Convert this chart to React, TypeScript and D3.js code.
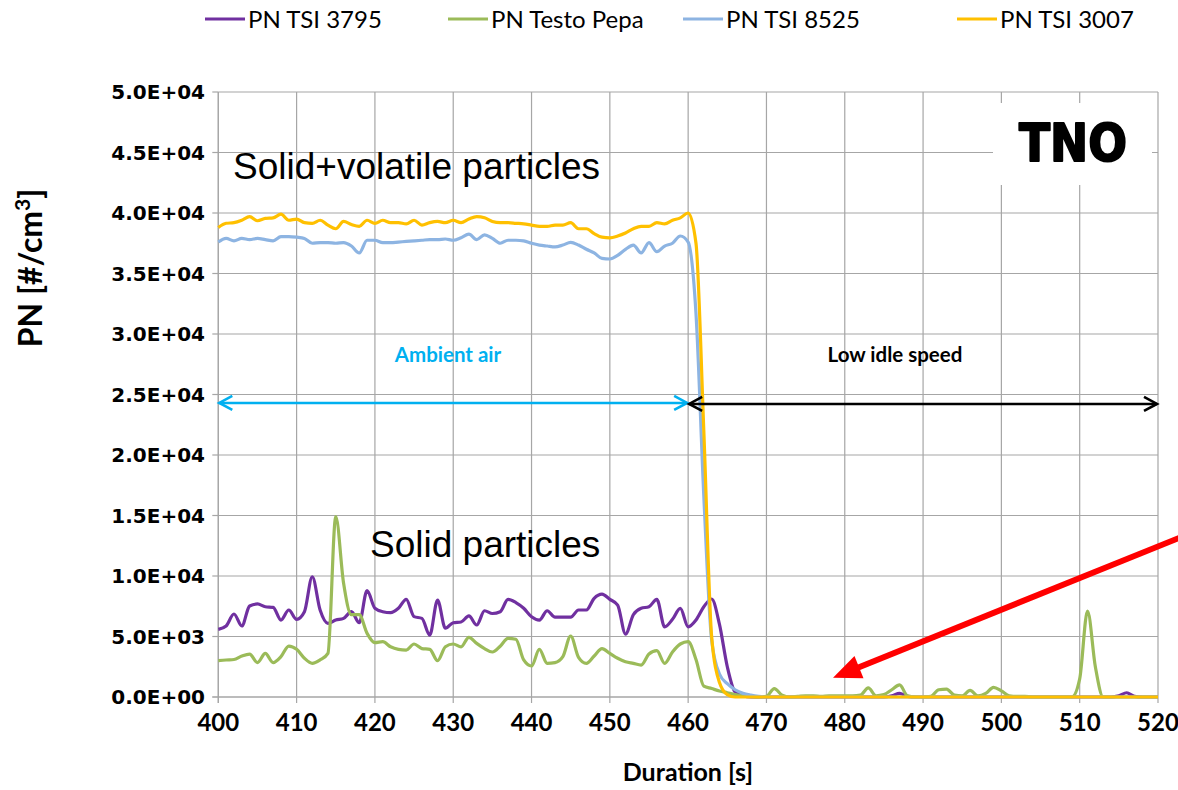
// App.tsx > PN time trace (TSI / Testo counters)

import React from 'react';
import * as d3 from 'd3';

// data
const seconds = d3.range(400, 521);
const seriesNames = ['PN TSI 3795', 'PN Testo Pepa', 'PN TSI 8525', 'PN TSI 3007'];
const seriesColors = ['#7030a0', '#9bbb59', '#8db4e2', '#ffc000'];

const pnTsi3795 = [
    5590, 5870, 6860, 5870, 7520, 7690, 7460, 7410, 6360, 7190,
    6420, 7050, 9940, 7190, 6090, 6360, 6500, 7050, 6140, 8790,
    7330, 7050, 6970, 7330, 8070, 6640, 6500, 5120, 8000, 5680,
    6140, 6200, 6700, 5950, 7130, 6900, 7050, 8070, 7800, 7330,
    6640, 6360, 7130, 6600, 6600, 6600, 7190, 7190, 8160, 8500,
    8070, 7600, 5200, 6800, 7330, 7460, 8070, 5800, 6420, 7330,
    5800, 6360, 7460, 8100, 6000, 2500, 400, 100, 0, 0,
    0, 0, 0, 0, 0, 0, 0, 0, 0, 0,
    0, 0, 0, 0, 0, 0, 100, 300, 50, 0,
    0, 0, 0, 0, 0, 0, 0, 0, 0, 0,
    0, 0, 0, 0, 0, 0, 0, 0, 0, 0,
    0, 0, 0, 0, 0, 100, 350, 50, 0, 0,
    0,
];
const pnTestoPepa = [
    3000, 3060, 3100, 3390, 3550, 2840, 3600, 2840, 3330, 4210,
    3940, 3200, 2780, 3060, 3600, 14900, 9400, 6800, 6800, 5260,
    4490, 4570, 4150, 3940, 3880, 4380, 4000, 3940, 3000, 4150,
    4380, 4150, 4930, 4430, 4000, 3720, 4200, 4850, 4770, 3060,
    2560, 3940, 2780, 2840, 3330, 5040, 3280, 2780, 3390, 4000,
    3600, 3200, 2920, 2780, 2640, 3550, 3830, 2780, 3720, 4380,
    4570, 3100, 900, 700, 500, 350, 200, 100, 50, 0,
    50, 700, 150, 0, 50, 100, 100, 50, 100, 100,
    100, 100, 150, 750, 100, 200, 600, 1000, 100, 0,
    0, 50, 600, 650, 150, 100, 550, 100, 300, 800,
    500, 100, 50, 50, 0, 0, 0, 0, 0, 0,
    1500, 7100, 2500, 0, 0, 0, 0, 0, 0, 0,
    0,
];
const pnTsi8525 = [
    37600, 37900, 37700, 37900, 37800, 37900, 37800, 37700, 38050, 38050,
    38000, 37900, 37500, 37550, 37550, 37500, 37550, 37270, 36700, 37750,
    37750, 37550, 37550, 37600, 37650, 37700, 37750, 37800, 37800, 37850,
    37750, 37950, 38250, 37800, 38200, 37900, 37500, 37750, 37750, 37700,
    37500, 37350, 37270, 37200, 37350, 37570, 37350, 37000, 36700, 36250,
    36200, 36500, 37000, 37350, 36700, 37550, 36800, 37270, 37500, 38100,
    37600, 31700, 16600, 4700, 1900, 1100, 600, 300, 150, 50,
    0, 0, 0, 0, 0, 0, 0, 0, 0, 0,
    0, 0, 0, 0, 0, 0, 0, 0, 0, 0,
    0, 0, 0, 0, 0, 0, 0, 0, 0, 0,
    0, 0, 0, 0, 0, 0, 0, 0, 0, 0,
    0, 0, 0, 0, 0, 0, 0, 0, 0, 0,
    0,
];
const pnTsi3007 = [
    38800, 39150, 39200, 39400, 39700, 39360, 39550, 39600, 39900, 39400,
    39500, 39200, 39150, 39400, 39000, 38700, 39300, 39050, 38900, 39400,
    39150, 39400, 39200, 39200, 39100, 39400, 39000, 39200, 39300, 39200,
    39400, 39200, 39500, 39700, 39600, 39300, 39200, 39200, 39150, 39100,
    39000, 38900, 38900, 39000, 39000, 39200, 38700, 38700, 38300, 38000,
    37950, 38100, 38350, 38700, 38900, 38900, 39200, 39100, 39400, 39600,
    40000, 37500, 22000, 5000, 1200, 200, 0, 0, 0, 0,
    0, 0, 0, 0, 0, 0, 0, 0, 0, 0,
    0, 0, 0, 0, 0, 0, 0, 0, 0, 0,
    0, 0, 0, 0, 0, 0, 0, 0, 0, 0,
    0, 0, 0, 0, 0, 0, 0, 0, 0, 0,
    0, 0, 0, 0, 0, 0, 0, 0, 0, 0,
    0,
];
const seriesValues = [pnTsi3795, pnTestoPepa, pnTsi8525, pnTsi3007];

const xTicks = d3.range(400, 521, 10);
const yTicks = d3.range(0, 50001, 5000);

// annotations (data coords)
const phaseArrowY = 24300;
const ambientSpan = [400, 460];
const idleSpan = [460, 520];
const redArrowFrom = [522.9, 13200];
const redArrowTo = [478.5, 1600];

// layout
const W = 1178, H = 790;
const plot = {left: 218.3, right: 1158, top: 92, bottom: 697};

const fmtExp = (v: number) => {
    const [m, e] = v.toExponential(1).split('e');
    const sign = e[0] === '-' ? '-' : '+';
    const digits = e.replace(/[+-]/, '').padStart(2, '0');
    return `${m}E${sign}${digits}`;
};

export default function App() {
    const xScale = d3.scaleLinear().domain([400, 520]).range([plot.left, plot.right]);
    const yScale = d3.scaleLinear().domain([0, 50000]).range([plot.bottom, plot.top]);

    const lineGen = d3.line<number>()
        .x((_, i) => xScale(seconds[i]))
        .y((d) => yScale(d))
        .curve(d3.curveMonotoneX);

    // red arrow geometry
    const rx0 = xScale(redArrowFrom[0]), ry0 = yScale(redArrowFrom[1]);
    const rx1 = xScale(redArrowTo[0]), ry1 = yScale(redArrowTo[1]);
    const len = Math.hypot(rx1 - rx0, ry1 - ry0);
    const ux = (rx1 - rx0) / len, uy = (ry1 - ry0) / len;
    const headLen = 28, headHalf = 12;
    const bx = rx1 - ux * headLen, by = ry1 - uy * headLen;
    const head = `M${rx1},${ry1} L${bx - uy * headHalf},${by + ux * headHalf} L${bx + uy * headHalf},${by - ux * headHalf} Z`;

    const legendX = [205, 448, 683, 957];
    const gridColor = '#a6a6a6';
    const calibri = 'Lato, "Open Sans", sans-serif';

    const chevron = (x: number, y: number, dir: number) =>
        `M${x - dir * 13},${y - 7} L${x},${y} L${x - dir * 13},${y + 7}`;

    const ay = yScale(phaseArrowY);

    return (
        <div style={{position: 'absolute', left: 0, top: 0}}>
            <svg width={W} height={H} style={{display: 'block', background: '#fff'}}>
                {/* grid */}
                <g>
                    {yTicks.map((t) => (
                        <line key={'gy' + t} x1={plot.left} x2={plot.right} y1={yScale(t)} y2={yScale(t)}
                              stroke={gridColor} strokeWidth={1.2} />
                    ))}
                    {xTicks.map((t) => (
                        <line key={'gx' + t} x1={xScale(t)} x2={xScale(t)} y1={plot.top} y2={plot.bottom}
                              stroke={gridColor} strokeWidth={1.2} />
                    ))}
                </g>

                {/* TNO logo box */}
                <rect x={993} y={103} width={159} height={82} fill="#fff" />
                <text x={1073} y={161} textAnchor="middle" fontFamily='"DejaVu Sans", sans-serif'
                      fontWeight={900} fontSize={52} textLength={108} lengthAdjust="spacingAndGlyphs"
                      stroke="#000" strokeWidth={2} strokeLinejoin="round">TNO</text>

                {/* axes */}
                <line x1={plot.left} x2={plot.left} y1={plot.top} y2={plot.bottom + 6} stroke={gridColor} strokeWidth={1.2} />
                <line x1={plot.left - 6} x2={plot.right} y1={plot.bottom} y2={plot.bottom} stroke={gridColor} strokeWidth={1.2} />
                {yTicks.map((t) => (
                    <g key={'yt' + t}>
                        <line x1={plot.left - 6} x2={plot.left} y1={yScale(t)} y2={yScale(t)} stroke={gridColor} strokeWidth={1.2} />
                        <text x={205} y={yScale(t)} dy="0.36em" textAnchor="end"
                              fontFamily='"DejaVu Sans", sans-serif' fontWeight="bold" fontSize={20}>{fmtExp(t)}</text>
                    </g>
                ))}
                {xTicks.map((t) => (
                    <g key={'xt' + t}>
                        <line x1={xScale(t)} x2={xScale(t)} y1={plot.bottom} y2={plot.bottom + 6} stroke={gridColor} strokeWidth={1.2} />
                        <text x={xScale(t)} y={722} dy="0.36em" textAnchor="middle"
                              fontFamily={calibri} fontWeight="bold" fontSize={24}>{t}</text>
                    </g>
                ))}
                <text x={688} y={781} textAnchor="middle" fontFamily={calibri}
                      fontWeight="bold" fontSize={25}>Duration [s]</text>
                <text transform="translate(42,268) rotate(-90)" textAnchor="middle" fontFamily={calibri}
                      fontWeight="bold" fontSize={32}>
                    PN [#/cm<tspan dy={-12} fontSize={21}>3</tspan><tspan dy={12}>]</tspan>
                </text>

                {/* series */}
                {seriesValues.map((vals, i) => (
                    <path key={seriesNames[i]} d={lineGen(vals) || ''} fill="none"
                          stroke={seriesColors[i]} strokeWidth={3.2} strokeLinejoin="round" />
                ))}

                {/* phase arrows */}
                <line x1={xScale(ambientSpan[0]) + 1} x2={xScale(ambientSpan[1]) - 1} y1={ay} y2={ay}
                      stroke="#00b0f0" strokeWidth={2.6} />
                <path d={chevron(xScale(ambientSpan[1]) - 1, ay, 1)} fill="none" stroke="#00b0f0" strokeWidth={2.6} />
                <path d={chevron(xScale(ambientSpan[0]) + 1, ay, -1)} fill="none" stroke="#00b0f0" strokeWidth={2.6} />
                <line x1={xScale(idleSpan[0]) + 1} x2={xScale(idleSpan[1]) - 1} y1={ay + 1} y2={ay + 1}
                      stroke="#000" strokeWidth={2.6} />
                <path d={chevron(xScale(idleSpan[0]) + 1, ay + 1, -1)} fill="none" stroke="#000" strokeWidth={2.6} />
                <path d={chevron(xScale(idleSpan[1]) - 1, ay + 1, 1)} fill="none" stroke="#000" strokeWidth={2.6} />

                <text x={448} y={355} dy="0.36em" textAnchor="middle" fill="#00b0f0" fontFamily={calibri}
                      fontWeight="bold" fontSize={20.5}>Ambient air</text>
                <text x={895} y={355} dy="0.36em" textAnchor="middle" fill="#000" fontFamily={calibri}
                      fontWeight="bold" fontSize={20.5}>Low idle speed</text>

                <text x={233} y={179} fontFamily='"Liberation Sans", Arial, sans-serif' fontSize={37}>Solid+volatile particles</text>
                <text x={370} y={557} fontFamily='"Liberation Sans", Arial, sans-serif' fontSize={37}>Solid particles</text>

                {/* red arrow */}
                <line x1={rx0} y1={ry0} x2={bx + ux * 2} y2={by + uy * 2} stroke="#ff0000" strokeWidth={6} />
                <path d={head} fill="#ff0000" />

                {/* legend */}
                {seriesNames.map((name, i) => (
                    <g key={'lg' + name}>
                        <line x1={legendX[i]} x2={legendX[i] + 40} y1={19} y2={19} stroke={seriesColors[i]} strokeWidth={3.2} />
                        <text x={legendX[i] + 43} y={19} dy="0.36em" fontFamily={calibri} fontSize={24}>{name}</text>
                    </g>
                ))}
            </svg>
        </div>
    );
}
